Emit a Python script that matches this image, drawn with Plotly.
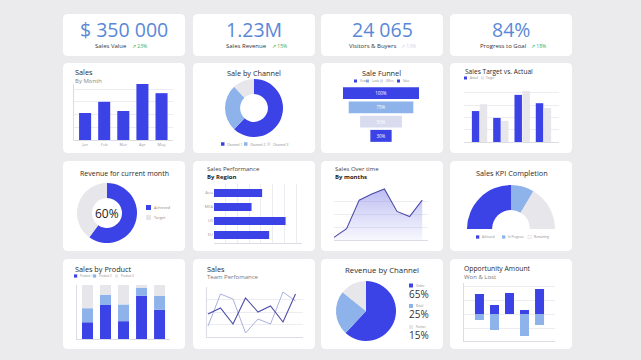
import plotly.graph_objects as go
import numpy as np

W, H = 641, 360
BLUE = '#3b43e6'
LBLUE = '#8eb2ea'
GRAY = '#e6e6eb'
PALE = '#d9dcef'
LINE_DARK = '#4b4baa'
LINE_LIGHT = '#a9b1de'
KPI_BLUE = '#5a88d8'
GREEN = '#2fae5a'
FONT = 'Open Sans'

# ---------------- data ----------------
kpi_values = ['$ 350 000', '1.23M', '24 065', '84%']
kpi_labels = ['Sales Value', 'Sales Revenue', 'Visitors & Buyers', 'Progress to Goal']
kpi_changes = ['↗ 23%', '↗ 15%', '↗ 13%', '↗ 18%']

month_cats = ['Jan', 'Feb', 'Mar', 'Apr', 'May']
month_sales = [53, 75, 57, 110, 92]

channel_names = ['Channel 1', 'Channel 2', 'Channel 3']
channel_share = [62, 26, 12]

funnel_stages = ['Views', 'Leads', 'Offers', 'Sales']
funnel_size = [100, 85, 55, 28]
funnel_pct = ['100%', '75%', '50%', '30%']

tva_cats = ['Q1', 'Q2', 'Q3', 'Q4']
tva_actual = [63, 49, 96, 79]
tva_target = [77, 43, 104, 69]

rev_month_names = ['Achieved', 'Target']
rev_month_vals = [60, 40]

region_names = ['Asia', 'MEA', 'US', 'EU']
region_sales = [41, 32, 61, 47]

time_months = ['Jan', 'Feb', 'Mar', 'Apr', 'May', 'Jun', 'Jul', 'Aug']
time_sales = [3, 13, 46, 53, 59, 33, 27, 46]

kpi_parts = ['Achieved', 'In Progress', 'Remaining']
kpi_part_vals = [50, 17, 33]

product_cats = ['A', 'B', 'C', 'D', 'E']
product_names = ['Product 1', 'Product 2', 'Product 3']
prod1 = [31, 63, 33, 80, 54]
prod2 = [26, 19, 31, 15, 26]
prod3 = [43, 18, 36, 5, 20]

team_x = list(range(8))
team_a = [23, 29, 13, 39, 25, 31, 15, 43]
team_b = [11, 43, 38, 4, 18, 13, 45, 36]

rev_channels = ['Online', 'Retail', 'Partner']
rev_channel_pct = [65, 25, 15]

opp_cats = list(range(5))
opp_won = [20, 9, 21, 4, 25]
opp_lost = [-6, -16, 0, -22, -11]


# ---------------- helpers ----------------
def px_x(x):
    return x / W


def px_y(y):
    return 1 - y / H


def xdom(a, b):
    return [a / W, b / W]


def ydom(top, bottom):
    return [1 - bottom / H, 1 - top / H]


def rounded(x0, y0, x1, y1, r=5):
    rx, ry = r / W, r / H
    X0, X1 = x0 / W, x1 / W
    Y0, Y1 = 1 - y1 / H, 1 - y0 / H
    return (f"M{X0+rx},{Y0} L{X1-rx},{Y0} Q{X1},{Y0} {X1},{Y0+ry} "
            f"L{X1},{Y1-ry} Q{X1},{Y1} {X1-rx},{Y1} L{X0+rx},{Y1} "
            f"Q{X0},{Y1} {X0},{Y1-ry} L{X0},{Y0+ry} Q{X0},{Y0} {X0+rx},{Y0} Z")


shapes = []
ann = []


def text(x, y, s, size=7, color='#2b2b2b', anchor='left', bold=False):
    if bold:
        s = f'<b>{s}</b>'
    ann.append(dict(text=s, x=px_x(x), y=px_y(y), xref='paper', yref='paper',
                    xanchor=anchor, yanchor='middle', showarrow=False,
                    font=dict(family=FONT, size=size, color=color), borderpad=0))


def legend_item(x, y, color, label, size=4, fsize=3.6, border=False):
    shapes.append(dict(type='rect', xref='paper', yref='paper',
                       x0=px_x(x), x1=px_x(x + size), y0=px_y(y + size / 2), y1=px_y(y - size / 2),
                       fillcolor=color, line=dict(width=0.4 if border else 0, color='#cccccc'),
                       layer='above'))
    text(x + size + 1.5, y, label, size=fsize, color='#888888')


# cards
cols = [(63, 185), (193, 315), (321, 443), (450, 572)]
rows = [(14, 56), (63, 153), (161, 251), (259, 349)]
for (y0, y1) in rows:
    for (x0, x1) in cols:
        shapes.append(dict(type='path', path=rounded(x0, y0, x1, y1, 5), xref='paper', yref='paper',
                           fillcolor='white', line=dict(width=0), layer='below'))

# KPI row
kpi_centers = [124, 254, 382, 511]
kpi_label_right = [128, 268, 397, 527]
chg_colors = [GREEN, GREEN, '#d4cfee', GREEN]
for cx, lr, v, lab, chg, cc in zip(kpi_centers, kpi_label_right, kpi_values, kpi_labels,
                                   kpi_changes, chg_colors):
    text(cx, 29.5, v, size=19.5, color=KPI_BLUE, anchor='center')
    text(lr, 46.5, lab, size=6, color='#333333', anchor='right')
    text(lr + 3, 46.5, chg, size=5, color=cc, anchor='left')

fig = go.Figure()
grid_c = '#ececf1'
axis_c = '#dcdce4'
tickf = dict(family=FONT, size=4, color='#999999')


def set_axes(n, xd, yd, xr, yr, xkw=None, ykw=None):
    xk = 'xaxis' if n == 1 else f'xaxis{n}'
    yk = 'yaxis' if n == 1 else f'yaxis{n}'
    xa = dict(domain=xd, range=xr, anchor='y' if n == 1 else f'y{n}', showgrid=False,
              zeroline=False, showticklabels=False, showline=False, fixedrange=True, ticks='')
    ya = dict(domain=yd, range=yr, anchor='x' if n == 1 else f'x{n}', showgrid=False,
              zeroline=False, showticklabels=False, showline=False, fixedrange=True, ticks='')
    if xkw:
        xa.update(xkw)
    if ykw:
        ya.update(ykw)
    fig.layout[xk] = xa
    fig.layout[yk] = ya


# ---- 1: Sales by month ----
text(74, 72.5, 'Sales', size=7.3)
text(74, 81.5, 'By Month', size=6, color='#888888')
fig.add_trace(go.Bar(x=list(range(len(month_cats))), y=month_sales, width=0.63,
                     marker=dict(color=BLUE, line=dict(width=0)), xaxis='x', yaxis='y', hoverinfo='skip'))
set_axes(1, xdom(74, 173), ydom(84, 140), [-0.58, 4.6], [0, 110],
         xkw=dict(showticklabels=True, tickvals=list(range(5)), ticktext=month_cats, tickfont=tickf,
                  showline=True, linecolor=axis_c, linewidth=0.7),
         ykw=dict(showgrid=True, gridcolor=grid_c, gridwidth=0.7, dtick=25, showline=True,
                  linecolor=axis_c, linewidth=0.7))

# ---- 2: Sale by Channel donut ----
text(254, 73, 'Sale by Channel', size=7.3, anchor='center')
fig.add_trace(go.Pie(values=channel_share, labels=channel_names, hole=0.48, sort=False,
                     direction='clockwise', rotation=0,
                     marker=dict(colors=[BLUE, LBLUE, GRAY], line=dict(width=0)),
                     textinfo='none', hoverinfo='skip', showlegend=False,
                     domain=dict(x=xdom(225, 283), y=ydom(79, 137))))
for x, c, lab in zip([221, 244, 267], [BLUE, LBLUE, GRAY], channel_names):
    legend_item(x, 144, c, lab, size=3.5, fsize=3.3)

# ---- 3: Sale Funnel ----
text(381, 73, 'Sale Funnel', size=7.3, anchor='center')
funnel_colors = [BLUE, LBLUE, PALE, BLUE]
fig.add_trace(go.Funnel(y=list(range(len(funnel_stages))), x=funnel_size, text=funnel_pct,
                        textinfo='text', textposition='inside', insidetextanchor='middle',
                        textfont=dict(family=FONT, color='white', size=4.5),
                        marker=dict(color=funnel_colors, line=dict(width=0)),
                        connector=dict(visible=False), orientation='h',
                        xaxis='x8', yaxis='y8', hoverinfo='skip'))
set_axes(8, xdom(343, 419), ydom(86, 143), [-50, 50], [3.5, -0.5])
for x, c, lab in zip([354, 366, 380, 397], funnel_colors, funnel_stages):
    legend_item(x, 81, c, lab, size=3, fsize=2.6)

# ---- 4: Sales Target vs Actual ----
text(464, 72, 'Sales Target vs. Actual', size=6.6)
xs = list(range(len(tva_cats)))
fig.add_trace(go.Bar(x=xs, y=tva_actual, width=0.35, offset=-0.36,
                     marker=dict(color=BLUE, line=dict(width=0)), xaxis='x2', yaxis='y2', hoverinfo='skip'))
fig.add_trace(go.Bar(x=xs, y=tva_target, width=0.35, offset=0.01,
                     marker=dict(color=GRAY, line=dict(width=0)), xaxis='x2', yaxis='y2', hoverinfo='skip'))
set_axes(2, xdom(464, 559), ydom(87, 142), [-0.73, 3.73], [0, 112],
         xkw=dict(showline=True, linecolor=axis_c, linewidth=0.7),
         ykw=dict(showgrid=True, gridcolor=grid_c, gridwidth=0.7, dtick=25))
legend_item(464, 78, BLUE, 'Actual', size=3, fsize=2.8)
legend_item(481, 78, GRAY, 'Target', size=3, fsize=2.8)

# ---- 5: Revenue for current month ----
text(124, 173, 'Revenue for current month', size=7, anchor='center')
fig.add_trace(go.Pie(values=rev_month_vals, labels=rev_month_names, hole=0.5, sort=False,
                     direction='clockwise', rotation=0,
                     marker=dict(colors=[BLUE, GRAY], line=dict(width=0)),
                     textinfo='none', hoverinfo='skip', showlegend=False,
                     domain=dict(x=xdom(77, 137), y=ydom(183, 243))))
text(107, 213.5, f'{rev_month_vals[0]}%', size=12, color='#222222', anchor='center')
legend_item(146, 207.5, BLUE, rev_month_names[0], size=5, fsize=3.8)
legend_item(146, 217.5, GRAY, rev_month_names[1], size=5, fsize=3.8)

# ---- 6: Sales Performance by Region ----
text(206, 168.5, 'Sales Performance', size=6, color='#444444')
text(206, 177, 'By Region', size=6, color='#222222', bold=True)
fig.add_trace(go.Bar(y=list(range(len(region_names))), x=region_sales, orientation='h', width=0.57,
                     marker=dict(color=BLUE, line=dict(width=0)), xaxis='x3', yaxis='y3', hoverinfo='skip'))
set_axes(3, xdom(214, 302), ydom(184, 243), [0, 75], [3.57, -0.64],
         xkw=dict(showgrid=True, gridcolor=grid_c, gridwidth=0.7, dtick=10, showline=True,
                  linecolor=axis_c, linewidth=0.7),
         ykw=dict(showticklabels=True, tickvals=list(range(4)), ticktext=region_names, tickfont=tickf))

# ---- 7: Sales Over time ----
text(334, 168.5, 'Sales Over time', size=6, color='#444444')
text(334, 177, 'By months', size=6, color='#222222', bold=True)
fig.add_trace(go.Scatter(x=list(range(len(time_months))), y=time_sales, mode='lines',
                         line=dict(color=LINE_DARK, width=1.1), fill='tozeroy',
                         fillgradient=dict(type='vertical', start=0, stop=60,
                                           colorscale=[[0, 'rgba(130,130,235,0.06)'],
                                                       [1, 'rgba(120,120,230,0.50)']]),
                         xaxis='x4', yaxis='y4', hoverinfo='skip'))
set_axes(4, xdom(334, 428), ydom(188, 240), [0, 7.46], [0, 60],
         xkw=dict(showline=True, linecolor=axis_c, linewidth=0.7),
         ykw=dict(showgrid=True, gridcolor=grid_c, gridwidth=0.7, dtick=15))

# ---- 8: Sales KPI Completion (half donut) ----
text(512, 173, 'Sales KPI Completion', size=7.3, anchor='center')
fig.add_trace(go.Pie(values=kpi_part_vals + [sum(kpi_part_vals)], labels=kpi_parts + ['hidden'],
                     hole=0.43, sort=False, direction='clockwise', rotation=-90,
                     marker=dict(colors=[BLUE, LBLUE, GRAY, 'rgba(0,0,0,0)'], line=dict(width=0)),
                     textinfo='none', hoverinfo='skip', showlegend=False,
                     domain=dict(x=xdom(467, 555), y=ydom(185, 273))))
for x, c, lab in zip([476, 502, 528], [BLUE, LBLUE, 'white'], kpi_parts):
    legend_item(x, 237, c, lab, size=3.3, fsize=3.0, border=(c == 'white'))

# ---- 9: Sales by Product (stacked 100%) ----
text(74, 269, 'Sales by Product', size=7.3)
p1 = np.array(prod1)
p2 = np.array(prod2)
p3 = np.array(prod3)
px = list(range(len(product_cats)))
for vals, base, c in [(p1, None, BLUE), (p2, p1, LBLUE), (p3, p1 + p2, GRAY)]:
    fig.add_trace(go.Bar(x=px, y=vals, base=base, width=0.61,
                         marker=dict(color=c, line=dict(width=0)), xaxis='x5', yaxis='y5', hoverinfo='skip'))
set_axes(5, xdom(77, 170), ydom(285, 339), [-0.583, 4.58], [0, 100],
         xkw=dict(showline=True, linecolor=axis_c, linewidth=0.7),
         ykw=dict(showline=True, linecolor=axis_c, linewidth=0.7))
for x, c, lab in zip([74, 93, 115], [BLUE, LBLUE, GRAY], product_names):
    legend_item(x, 276, c, lab, size=3.2, fsize=2.8)

# ---- 10: Team Performance ----
text(206, 268.5, 'Sales', size=7.3)
text(206, 277, 'Team Perfomance', size=6, color='#777777')
fig.add_trace(go.Scatter(x=team_x, y=team_b, mode='lines', line=dict(color=LINE_LIGHT, width=1),
                         xaxis='x6', yaxis='y6', hoverinfo='skip'))
fig.add_trace(go.Scatter(x=team_x, y=team_a, mode='lines', line=dict(color=LINE_DARK, width=1.1),
                         xaxis='x6', yaxis='y6', hoverinfo='skip'))
set_axes(6, xdom(207, 303), ydom(287, 337), [-0.08, 7.6], [0, 50],
         xkw=dict(showline=True, linecolor=axis_c, linewidth=0.7),
         ykw=dict(showgrid=True, gridcolor=grid_c, gridwidth=0.7, dtick=12.5, showline=True,
                  linecolor=axis_c, linewidth=0.7))

# ---- 11: Revenue by Channel pie ----
text(382, 270, 'Revenue by Channel', size=7.8, anchor='center')
rc_colors = [BLUE, LBLUE, GRAY]
fig.add_trace(go.Pie(values=rev_channel_pct, labels=rev_channels, sort=False,
                     direction='clockwise', rotation=0,
                     marker=dict(colors=rc_colors, line=dict(width=0)),
                     textinfo='none', hoverinfo='skip', showlegend=False,
                     domain=dict(x=xdom(336, 396), y=ydom(281, 341))))
for y, c, lab, v in zip([285.5, 306, 327], rc_colors, rev_channels, rev_channel_pct):
    legend_item(409, y, c, lab, size=4, fsize=2.8)
    text(408.5, y + 8, f'{v}%', size=10, color='#333333')

# ---- 12: Opportunity Amount ----
text(463, 268.5, 'Opportunity Amount', size=6.8)
text(463, 277, 'Won & Lost', size=6, color='#777777')
fig.add_trace(go.Bar(x=opp_cats, y=opp_won, width=0.6, marker=dict(color=BLUE, line=dict(width=0)),
                     xaxis='x7', yaxis='y7', hoverinfo='skip'))
fig.add_trace(go.Bar(x=opp_cats, y=opp_lost, width=0.6, marker=dict(color=LBLUE, line=dict(width=0)),
                     xaxis='x7', yaxis='y7', hoverinfo='skip'))
set_axes(7, xdom(464, 555), ydom(283, 341), [-1.03, 5.03], [-27, 31],
         xkw=dict(showline=True, linecolor=axis_c, linewidth=0.7),
         ykw=dict(showgrid=True, gridcolor=grid_c, gridwidth=0.7, dtick=14, showline=True,
                  linecolor=axis_c, linewidth=0.7))

fig.update_layout(width=W, height=H, margin=dict(l=0, r=0, t=0, b=0),
                  paper_bgcolor='#ebebed', plot_bgcolor='rgba(0,0,0,0)',
                  barmode='overlay', funnelgap=0.16, showlegend=False,
                  shapes=shapes, annotations=ann, font=dict(family=FONT),
                  hovermode=False)

fig.write_html('out.html', config={'displayModeBar': False},
               post_script="document.body.style.margin='0px';document.body.style.background='#ebebed';")
